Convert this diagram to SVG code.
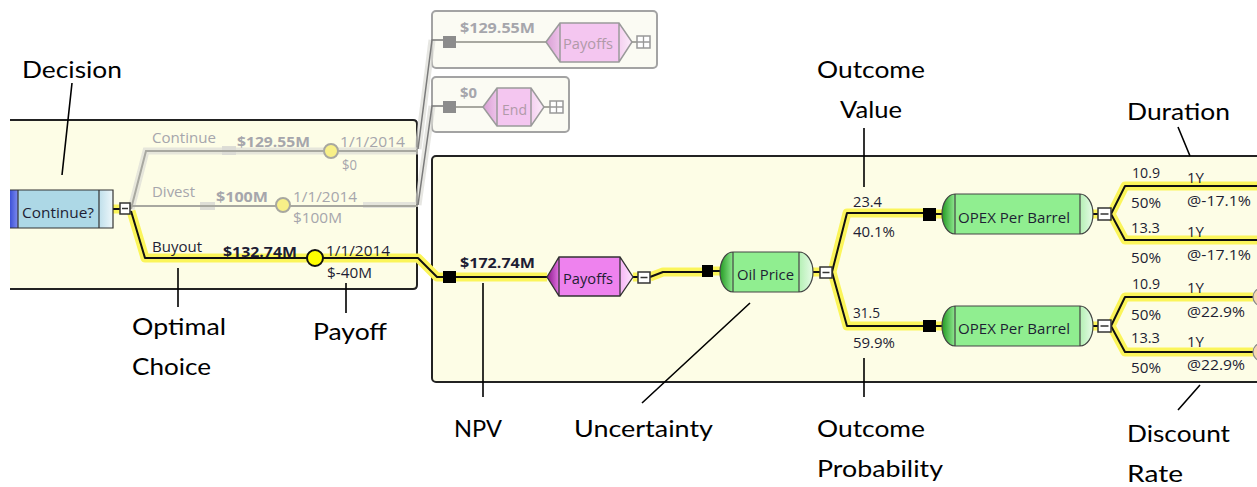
<svg xmlns="http://www.w3.org/2000/svg" width="1257" height="487" viewBox="0 0 1257 487">
<defs>
<style>
.ann{font-family:Lato,"Open Sans",sans-serif;font-size:23px;fill:#000}
.t{font-family:"Open Sans","Noto Sans",sans-serif;font-size:15px;fill:#1e1e34}
.b{font-weight:bold}
.g{fill:#a6a6ac}
.box{fill:#fdfde6;stroke:#222;stroke-width:2}
.gbox{fill:#fbfbf3;stroke:#a3a3a3;stroke-width:2}
.hl{fill:none;stroke:#fbf55a;stroke-width:9;stroke-linejoin:round}
.ln{fill:none;stroke:#111;stroke-width:2;stroke-linejoin:round}
.gln{fill:none;stroke:#a8a8a0;stroke-width:2}
.gsh{fill:none;stroke:#dcdcd6;stroke-width:7;opacity:.7}
.dln{fill:none;stroke:#7a7a7a;stroke-width:1.5}
.al{stroke:#000;stroke-width:1.6;fill:none}
.sq{fill:#000}
.gsq{fill:#8c8c8c}
.exp{fill:#fff;stroke:#333;stroke-width:1.5}
.gexp{fill:#fff;stroke:#999;stroke-width:1.5}
</style>
<linearGradient id="blueL" x1="0" x2="1" y1="0" y2="0"><stop offset="0" stop-color="#3d52d6"/><stop offset="1" stop-color="#7d8cf0"/></linearGradient>
<linearGradient id="blueR" x1="0" x2="1" y1="0" y2="0"><stop offset="0" stop-color="#bfdfeb"/><stop offset="1" stop-color="#eef7fa"/></linearGradient>
<linearGradient id="payL" x1="0" x2="1" y1="0" y2="0"><stop offset="0" stop-color="#8a1a8a"/><stop offset="1" stop-color="#e070e0"/></linearGradient>
<linearGradient id="payR" x1="0" x2="1" y1="0" y2="0"><stop offset="0" stop-color="#f6b6f6"/><stop offset="1" stop-color="#fde4fd"/></linearGradient>
<linearGradient id="gpayL" x1="0" x2="1" y1="0" y2="0"><stop offset="0" stop-color="#d8a0d4"/><stop offset="1" stop-color="#eec2ea"/></linearGradient>
<linearGradient id="gpayR" x1="0" x2="1" y1="0" y2="0"><stop offset="0" stop-color="#f4d0f0"/><stop offset="1" stop-color="#fcecfa"/></linearGradient>
<linearGradient id="grL" x1="0" x2="1" y1="0" y2="0"><stop offset="0" stop-color="#249a24"/><stop offset="1" stop-color="#8fe88f"/></linearGradient>
<linearGradient id="grR" x1="0" x2="1" y1="0" y2="0"><stop offset="0" stop-color="#b4f0b4"/><stop offset="1" stop-color="#e6fbe6"/></linearGradient>
</defs>
<rect width="1257" height="487" fill="#fff"/>

<!-- containers -->
<g id="left-panel">
<rect x="10" y="120" width="407" height="169" fill="#fdfde6"/>
<path d="M10,120 H413 Q417,120 417,124 V285 Q417,289 413,289 H10" fill="none" stroke="#222" stroke-width="2"/>
<rect x="363" y="202" width="52" height="6" fill="#e4e4dc"/>
<rect x="222" y="146" width="14" height="9" fill="#deded6"/>
<rect x="200" y="202" width="15" height="8" fill="#deded6"/>
</g>
<g id="right-panel">
<rect class="box" x="432" y="156" width="840" height="226" rx="4"/>
</g>
<g id="top-panel-1"><rect class="gbox" x="432" y="11" width="225" height="57" rx="4"/></g>
<g id="top-panel-2"><rect class="gbox" x="432" y="77" width="137" height="55" rx="4"/></g>

<!-- connectors -->
<g id="connectors">
<path class="gsh" d="M131,209 L146,151 H418"/>
<path class="gsh" d="M418,149 L432,40 M418,205 L432,106"/>
<path class="gln" d="M131,209 L146,151 H418"/>
<path class="gln" d="M130,206 H418"/>
<path class="dln" d="M418,149 L432,40 H443 M418,205 L432,106 H443"/>
<path class="gln" d="M456,42 H546 M632,42 H637 M456,107 H483 M544,107 H550"/>
<g>
<path class="hl" d="M113,209 H120 M131,211 L145,258 H418 L437,277 H443 M456,277 H547 M633,277 H638 M650,277 L663,272 H702 M713,271 H720 M813,272 H820 M832,272 L847,213 H923 M832,272 L847,326 H923 M936,214 H942 M936,326 H942 M1093,214 H1098 M1093,326 H1098 M1111,214 L1125,186 H1262 M1111,214 L1125,240 H1262 M1111,326 L1125,297 H1253 M1111,326 L1125,352 H1253"/>
<path class="ln" d="M113,209 H120 M131,211 L145,258 H418 L437,277 H443 M456,277 H547 M633,277 H638 M650,277 L663,272 H702 M713,271 H720 M813,272 H820 M832,272 L847,213 H923 M832,272 L847,326 H923 M936,214 H942 M936,326 H942 M1093,214 H1098 M1093,326 H1098 M1111,214 L1125,186 H1262 M1111,214 L1125,240 H1262 M1111,326 L1125,297 H1253 M1111,326 L1125,352 H1253"/>
</g>
</g>

<!-- decision node -->
<g id="node-continue">
<rect x="10" y="190" width="8" height="38" fill="url(#blueL)"/>
<rect x="18" y="190" width="81" height="38" fill="#add8e6"/>
<rect x="99" y="190" width="14" height="38" fill="url(#blueR)"/>
<path d="M10,190 H113 V228 H10 M18,190 V228 M99,190 V228" fill="none" stroke="#333" stroke-width="1.2"/>
<text class="t" x="22" y="218" textLength="72" lengthAdjust="spacingAndGlyphs">Continue?</text>
<rect class="exp" x="120" y="203" width="10" height="11"/>
<path d="M122,208.5 H128" stroke="#333" stroke-width="1.5"/>
</g>

<!-- branch labels & end circles -->
<g id="branch-continue">
<text class="t g" x="152" y="143" textLength="64" lengthAdjust="spacingAndGlyphs">Continue</text>
<text class="t g b" x="237" y="147" textLength="73" lengthAdjust="spacingAndGlyphs">$129.55M</text>
<circle cx="331" cy="151" r="7" fill="#f8f088" stroke="#a8a8a0" stroke-width="2"/>
<text class="t g" x="340" y="147" textLength="65" lengthAdjust="spacingAndGlyphs">1/1/2014</text>
<text class="t g" x="342" y="170" textLength="15" lengthAdjust="spacingAndGlyphs">$0</text>
</g>
<g id="branch-divest">
<text class="t g" x="152" y="197" textLength="43" lengthAdjust="spacingAndGlyphs">Divest</text>
<text class="t g b" x="216" y="202" textLength="52" lengthAdjust="spacingAndGlyphs">$100M</text>
<circle cx="283" cy="205" r="7" fill="#f8f088" stroke="#a8a8a0" stroke-width="2"/>
<text class="t g" x="293" y="202" textLength="64" lengthAdjust="spacingAndGlyphs">1/1/2014</text>
<text class="t g" x="293" y="223" textLength="49" lengthAdjust="spacingAndGlyphs">$100M</text>
</g>
<g id="branch-buyout">
<text class="t" x="152" y="252" textLength="50" lengthAdjust="spacingAndGlyphs">Buyout</text>
<text class="t b" x="223" y="257" textLength="74" lengthAdjust="spacingAndGlyphs">$132.74M</text>
<circle cx="315" cy="258" r="8" fill="#ffff00" stroke="#111" stroke-width="2"/>
<text class="t" x="326" y="256" textLength="64" lengthAdjust="spacingAndGlyphs">1/1/2014</text>
<text class="t" x="327" y="278" textLength="45" lengthAdjust="spacingAndGlyphs">$-40M</text>
</g>

<!-- top gray nodes -->
<g id="node-payoffs-gray">
<rect class="gsq" x="443" y="36" width="13" height="12"/>
<text class="t g b" x="460" y="33" textLength="75" lengthAdjust="spacingAndGlyphs">$129.55M</text>
<path d="M546,42 L560,23 V62 Z" fill="url(#gpayL)"/>
<rect x="560" y="23" width="59" height="39" fill="#f4c6f0"/>
<path d="M619,23 L632,42 L619,62 Z" fill="url(#gpayR)"/>
<path d="M546,42 L560,23 H619 L632,42 L619,62 H560 Z M560,23 V62 M619,23 V62" fill="none" stroke="#9a9a9a" stroke-width="1.5"/>
<text class="t" x="563" y="49" textLength="50" lengthAdjust="spacingAndGlyphs" style="fill:#b09aa8">Payoffs</text>
<rect class="gexp" x="637" y="36" width="13" height="12"/>
<path d="M643.5,36 V48 M637,42 H650" stroke="#999" stroke-width="1.3"/>
</g>
<g id="node-end-gray">
<rect class="gsq" x="443" y="101" width="13" height="12"/>
<text class="t g b" x="460" y="98" textLength="17" lengthAdjust="spacingAndGlyphs">$0</text>
<path d="M483,107 L497,88 V126 Z" fill="url(#gpayL)"/>
<rect x="497" y="88" width="34" height="38" fill="#f4c6f0"/>
<path d="M531,88 L544,107 L531,126 Z" fill="url(#gpayR)"/>
<path d="M483,107 L497,88 H531 L544,107 L531,126 H497 Z M497,88 V126 M531,88 V126" fill="none" stroke="#9a9a9a" stroke-width="1.5"/>
<text class="t" x="502" y="115" textLength="25" lengthAdjust="spacingAndGlyphs" style="fill:#b09aa8">End</text>
<rect class="gexp" x="550" y="101" width="13" height="12"/>
<path d="M556.5,101 V113 M550,107 H563" stroke="#999" stroke-width="1.3"/>
</g>

<!-- NPV / Payoffs -->
<g id="node-payoffs">
<rect class="sq" x="443" y="271" width="13" height="12"/>
<text class="t b" x="460" y="268" textLength="75" lengthAdjust="spacingAndGlyphs">$172.74M</text>
<path d="M547,277 L559,257 V296 Z" fill="url(#payL)"/>
<rect x="559" y="257" width="61" height="39" fill="#ee82ee"/>
<path d="M620,257 L633,277 L620,296 Z" fill="url(#payR)"/>
<path d="M547,277 L559,257 H620 L633,277 L620,296 H559 Z M559,257 V296 M620,257 V296" fill="none" stroke="#333" stroke-width="1.3"/>
<text class="t" x="563" y="284" textLength="50" lengthAdjust="spacingAndGlyphs">Payoffs</text>
<rect class="exp" x="638" y="272" width="12" height="11"/>
<path d="M640.5,277.5 H647.5" stroke="#333" stroke-width="1.5"/>
</g>

<!-- Oil Price -->
<g id="node-oil-price">
<rect class="sq" x="702" y="265" width="11" height="12"/>
<path d="M733,252 H799 A14,20 0 0 1 799,292 H733 A13,20 0 0 1 733,252 Z" fill="#90ee90"/>
<path d="M733,252 A13,20 0 0 0 733,292 Z" fill="url(#grL)"/>
<path d="M799,252 A14,20 0 0 1 799,292 Z" fill="url(#grR)"/>
<path d="M733,252 H799 A14,20 0 0 1 799,292 H733 A13,20 0 0 1 733,252 Z M733,252 V292 M799,252 V292" fill="none" stroke="#444" stroke-width="1.2"/>
<text class="t" x="737" y="280" textLength="57" lengthAdjust="spacingAndGlyphs">Oil Price</text>
<rect class="exp" x="820" y="267" width="12" height="11"/>
<path d="M822.5,272.5 H829.5" stroke="#333" stroke-width="1.5"/>
<text class="t" x="853" y="207" textLength="29" lengthAdjust="spacingAndGlyphs">23.4</text>
<text class="t" x="853" y="237" textLength="42" lengthAdjust="spacingAndGlyphs">40.1%</text>
<text class="t" x="853" y="318" textLength="27" lengthAdjust="spacingAndGlyphs">31.5</text>
<text class="t" x="853" y="348" textLength="42" lengthAdjust="spacingAndGlyphs">59.9%</text>
</g>

<!-- OPEX 1 -->
<g id="node-opex-1">
<rect class="sq" x="923" y="208" width="13" height="13"/>
<path d="M955,194 H1080 A13,20 0 0 1 1080,234 H955 A13,20 0 0 1 955,194 Z" fill="#90ee90"/>
<path d="M955,194 A13,20 0 0 0 955,234 Z" fill="url(#grL)"/>
<path d="M1080,194 A13,20 0 0 1 1080,234 Z" fill="url(#grR)"/>
<path d="M955,194 H1080 A13,20 0 0 1 1080,234 H955 A13,20 0 0 1 955,194 Z M955,194 V234 M1080,194 V234" fill="none" stroke="#444" stroke-width="1.2"/>
<text class="t" x="958" y="223" textLength="112" lengthAdjust="spacingAndGlyphs">OPEX Per Barrel</text>
<rect class="exp" x="1098" y="208" width="13" height="12"/>
<path d="M1100.5,214 H1108.5" stroke="#333" stroke-width="1.5"/>
<text class="t" x="1132" y="178" textLength="28" lengthAdjust="spacingAndGlyphs">10.9</text>
<text class="t" x="1187" y="183" textLength="17" lengthAdjust="spacingAndGlyphs">1Y</text>
<text class="t" x="1131" y="208" textLength="30" lengthAdjust="spacingAndGlyphs">50%</text>
<text class="t" x="1187" y="206" textLength="64" lengthAdjust="spacingAndGlyphs">@-17.1%</text>
<text class="t" x="1131" y="233" textLength="29" lengthAdjust="spacingAndGlyphs">13.3</text>
<text class="t" x="1187" y="237" textLength="17" lengthAdjust="spacingAndGlyphs">1Y</text>
<text class="t" x="1131" y="263" textLength="30" lengthAdjust="spacingAndGlyphs">50%</text>
<text class="t" x="1187" y="260" textLength="64" lengthAdjust="spacingAndGlyphs">@-17.1%</text>
</g>

<!-- OPEX 2 -->
<g id="node-opex-2">
<rect class="sq" x="923" y="320" width="13" height="12"/>
<path d="M955,306 H1080 A13,20 0 0 1 1080,346 H955 A13,20 0 0 1 955,306 Z" fill="#90ee90"/>
<path d="M955,306 A13,20 0 0 0 955,346 Z" fill="url(#grL)"/>
<path d="M1080,306 A13,20 0 0 1 1080,346 Z" fill="url(#grR)"/>
<path d="M955,306 H1080 A13,20 0 0 1 1080,346 H955 A13,20 0 0 1 955,306 Z M955,306 V346 M1080,306 V346" fill="none" stroke="#444" stroke-width="1.2"/>
<text class="t" x="958" y="334" textLength="112" lengthAdjust="spacingAndGlyphs">OPEX Per Barrel</text>
<rect class="exp" x="1098" y="320" width="13" height="12"/>
<path d="M1100.5,326 H1108.5" stroke="#333" stroke-width="1.5"/>
<text class="t" x="1132" y="289" textLength="28" lengthAdjust="spacingAndGlyphs">10.9</text>
<text class="t" x="1187" y="293" textLength="17" lengthAdjust="spacingAndGlyphs">1Y</text>
<text class="t" x="1131" y="320" textLength="30" lengthAdjust="spacingAndGlyphs">50%</text>
<text class="t" x="1187" y="317" textLength="58" lengthAdjust="spacingAndGlyphs">@22.9%</text>
<text class="t" x="1131" y="343" textLength="29" lengthAdjust="spacingAndGlyphs">13.3</text>
<text class="t" x="1187" y="347" textLength="17" lengthAdjust="spacingAndGlyphs">1Y</text>
<text class="t" x="1131" y="373" textLength="30" lengthAdjust="spacingAndGlyphs">50%</text>
<text class="t" x="1187" y="370" textLength="58" lengthAdjust="spacingAndGlyphs">@22.9%</text>
<circle cx="1262" cy="297" r="9" fill="#f5d7b8" stroke="#888" stroke-width="1.2"/>
<circle cx="1262" cy="352" r="9" fill="#f5d7b8" stroke="#888" stroke-width="1.2"/>
</g>

<!-- annotations -->
<g id="annotations">
<path class="al" d="M72,83 L62,175 M864,128 V187 M1178,127 L1190,156 M178,268 V307 M346,283 V313 M483,283 V397 M750,303 L642,403 M864,358 V397 M1200,385 L1178,410"/>
<text class="ann" x="22" y="78" textLength="100" lengthAdjust="spacingAndGlyphs">Decision</text>
<text class="ann" x="817" y="78" textLength="108" lengthAdjust="spacingAndGlyphs">Outcome</text>
<text class="ann" x="840" y="118" textLength="62" lengthAdjust="spacingAndGlyphs">Value</text>
<text class="ann" x="1127" y="120" textLength="103" lengthAdjust="spacingAndGlyphs">Duration</text>
<text class="ann" x="132" y="335" textLength="94" lengthAdjust="spacingAndGlyphs">Optimal</text>
<text class="ann" x="132" y="375" textLength="79" lengthAdjust="spacingAndGlyphs">Choice</text>
<text class="ann" x="313" y="340" textLength="74" lengthAdjust="spacingAndGlyphs">Payoff</text>
<text class="ann" x="454" y="437" textLength="48" lengthAdjust="spacingAndGlyphs">NPV</text>
<text class="ann" x="574" y="437" textLength="139" lengthAdjust="spacingAndGlyphs">Uncertainty</text>
<text class="ann" x="817" y="437" textLength="108" lengthAdjust="spacingAndGlyphs">Outcome</text>
<text class="ann" x="817" y="477" textLength="126" lengthAdjust="spacingAndGlyphs">Probability</text>
<text class="ann" x="1127" y="442" textLength="103" lengthAdjust="spacingAndGlyphs">Discount</text>
<text class="ann" x="1127" y="482" textLength="56" lengthAdjust="spacingAndGlyphs">Rate</text>
</g>
</svg>
